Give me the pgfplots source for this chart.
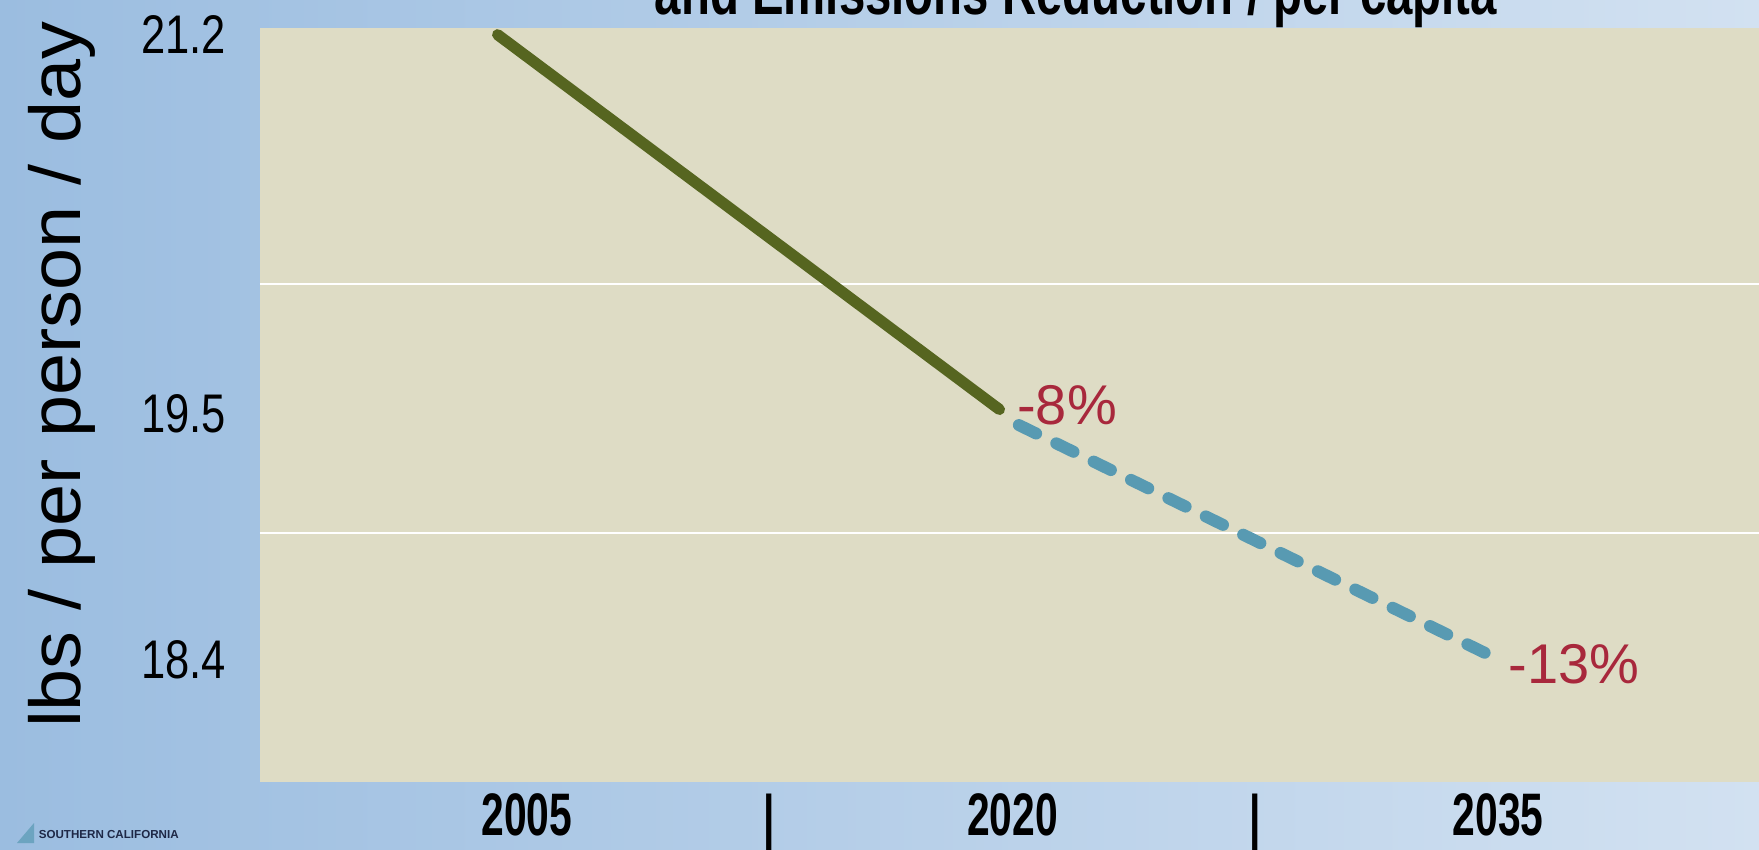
\documentclass[border=0pt]{standalone}
\usepackage{fontspec}
\setmainfont{Liberation Sans}
\newfontfamily\xfont[FakeStretch=0.68]{Liberation Sans}
\newfontfamily\yfont[FakeStretch=0.8]{Liberation Sans}
\newfontfamily\labfont[FakeStretch=1.05]{Liberation Sans}
\newfontfamily\titfont[FakeStretch=0.74]{Liberation Sans}
\usepackage{pgfplots}
\pgfplotsset{compat=1.18}

\definecolor{bgleft}{RGB}{155,189,224}
\definecolor{bgright}{RGB}{210,225,241}
\definecolor{plotbg}{RGB}{222,220,197}
\definecolor{linegreen}{RGB}{86,101,32}
\definecolor{lineblue}{RGB}{88,154,178}
\definecolor{pctred}{RGB}{168,40,60}
\definecolor{navy}{RGB}{30,40,70}

\begin{document}
\begin{tikzpicture}
\shade[left color=bgleft, right color=bgright] (0,0) rectangle (439.75pt,212.25pt);
\begin{axis}[
at={(65pt,16.75pt)}, anchor=south west,
width=374.75pt, height=188.5pt, scale only axis,
xmin=1996.76, xmax=2043.06,
ymin=17.85, ymax=21.23,
axis line style={draw=none},
axis background/.style={fill=plotbg},
major tick length=0pt,
xtick={2005,2012.5,2020,2027.5,2035},
xticklabels={2005,|,2020,|,2035},
xticklabel style={font=\xfont\bfseries\fontsize{15}{15}\selectfont, yshift=0.6pt},
ytick={18.4,19.5,21.2},
yticklabels={18.4,19.5,21.2},
yticklabel style={font=\yfont\fontsize{13.6}{13.6}\selectfont, xshift=-5pt},
extra y ticks={18.967,20.083},
extra y tick labels={},
extra y tick style={ymajorgrids=true, major grid style={white, line width=0.6pt}},
ylabel={lbs / per person / day},
every axis y label/.style={at={(axis description cs:-0.132,0.54)}, rotate=90, anchor=center,
  font=\labfont\fontsize{18}{18}\selectfont},
clip=true,
]
\addplot[color=linegreen, line width=2.8pt, line cap=round] coordinates {
(2004.1,21.2)(2019.6,19.52)
};
\addplot[color=lineblue, line width=3pt, line cap=round, dash pattern=on 4.8pt off 5.6pt] coordinates {
(2020.2,19.45)(2035,18.4)
};
\node[anchor=west, text=pctred, font=\fontsize{14}{14}\selectfont, inner sep=1pt] at (axis cs:2020,19.54) {-8\%};
\node[anchor=west, text=pctred, font=\fontsize{14}{14}\selectfont, inner sep=2.5pt] at (axis cs:2035,18.38) {-13\%};
\end{axis}
\node[anchor=base, font=\titfont\bfseries\fontsize{16}{16}\selectfont] at (269pt,208.75pt) {and Emissions Reduction / per capita};
\fill[color=lineblue!70!bgleft] (4.25pt,1.5pt) -- (8.5pt,6.5pt) -- (8.5pt,1.5pt) -- cycle;
\node[anchor=base west, inner sep=0pt, text=navy, font=\bfseries\fontsize{2.9}{3}\selectfont] at (9.5pt,2.75pt) {SOUTHERN CALIFORNIA};
\pgfresetboundingbox
\useasboundingbox (0,0) rectangle (439.75pt,212.25pt);
\end{tikzpicture}
\end{document}
